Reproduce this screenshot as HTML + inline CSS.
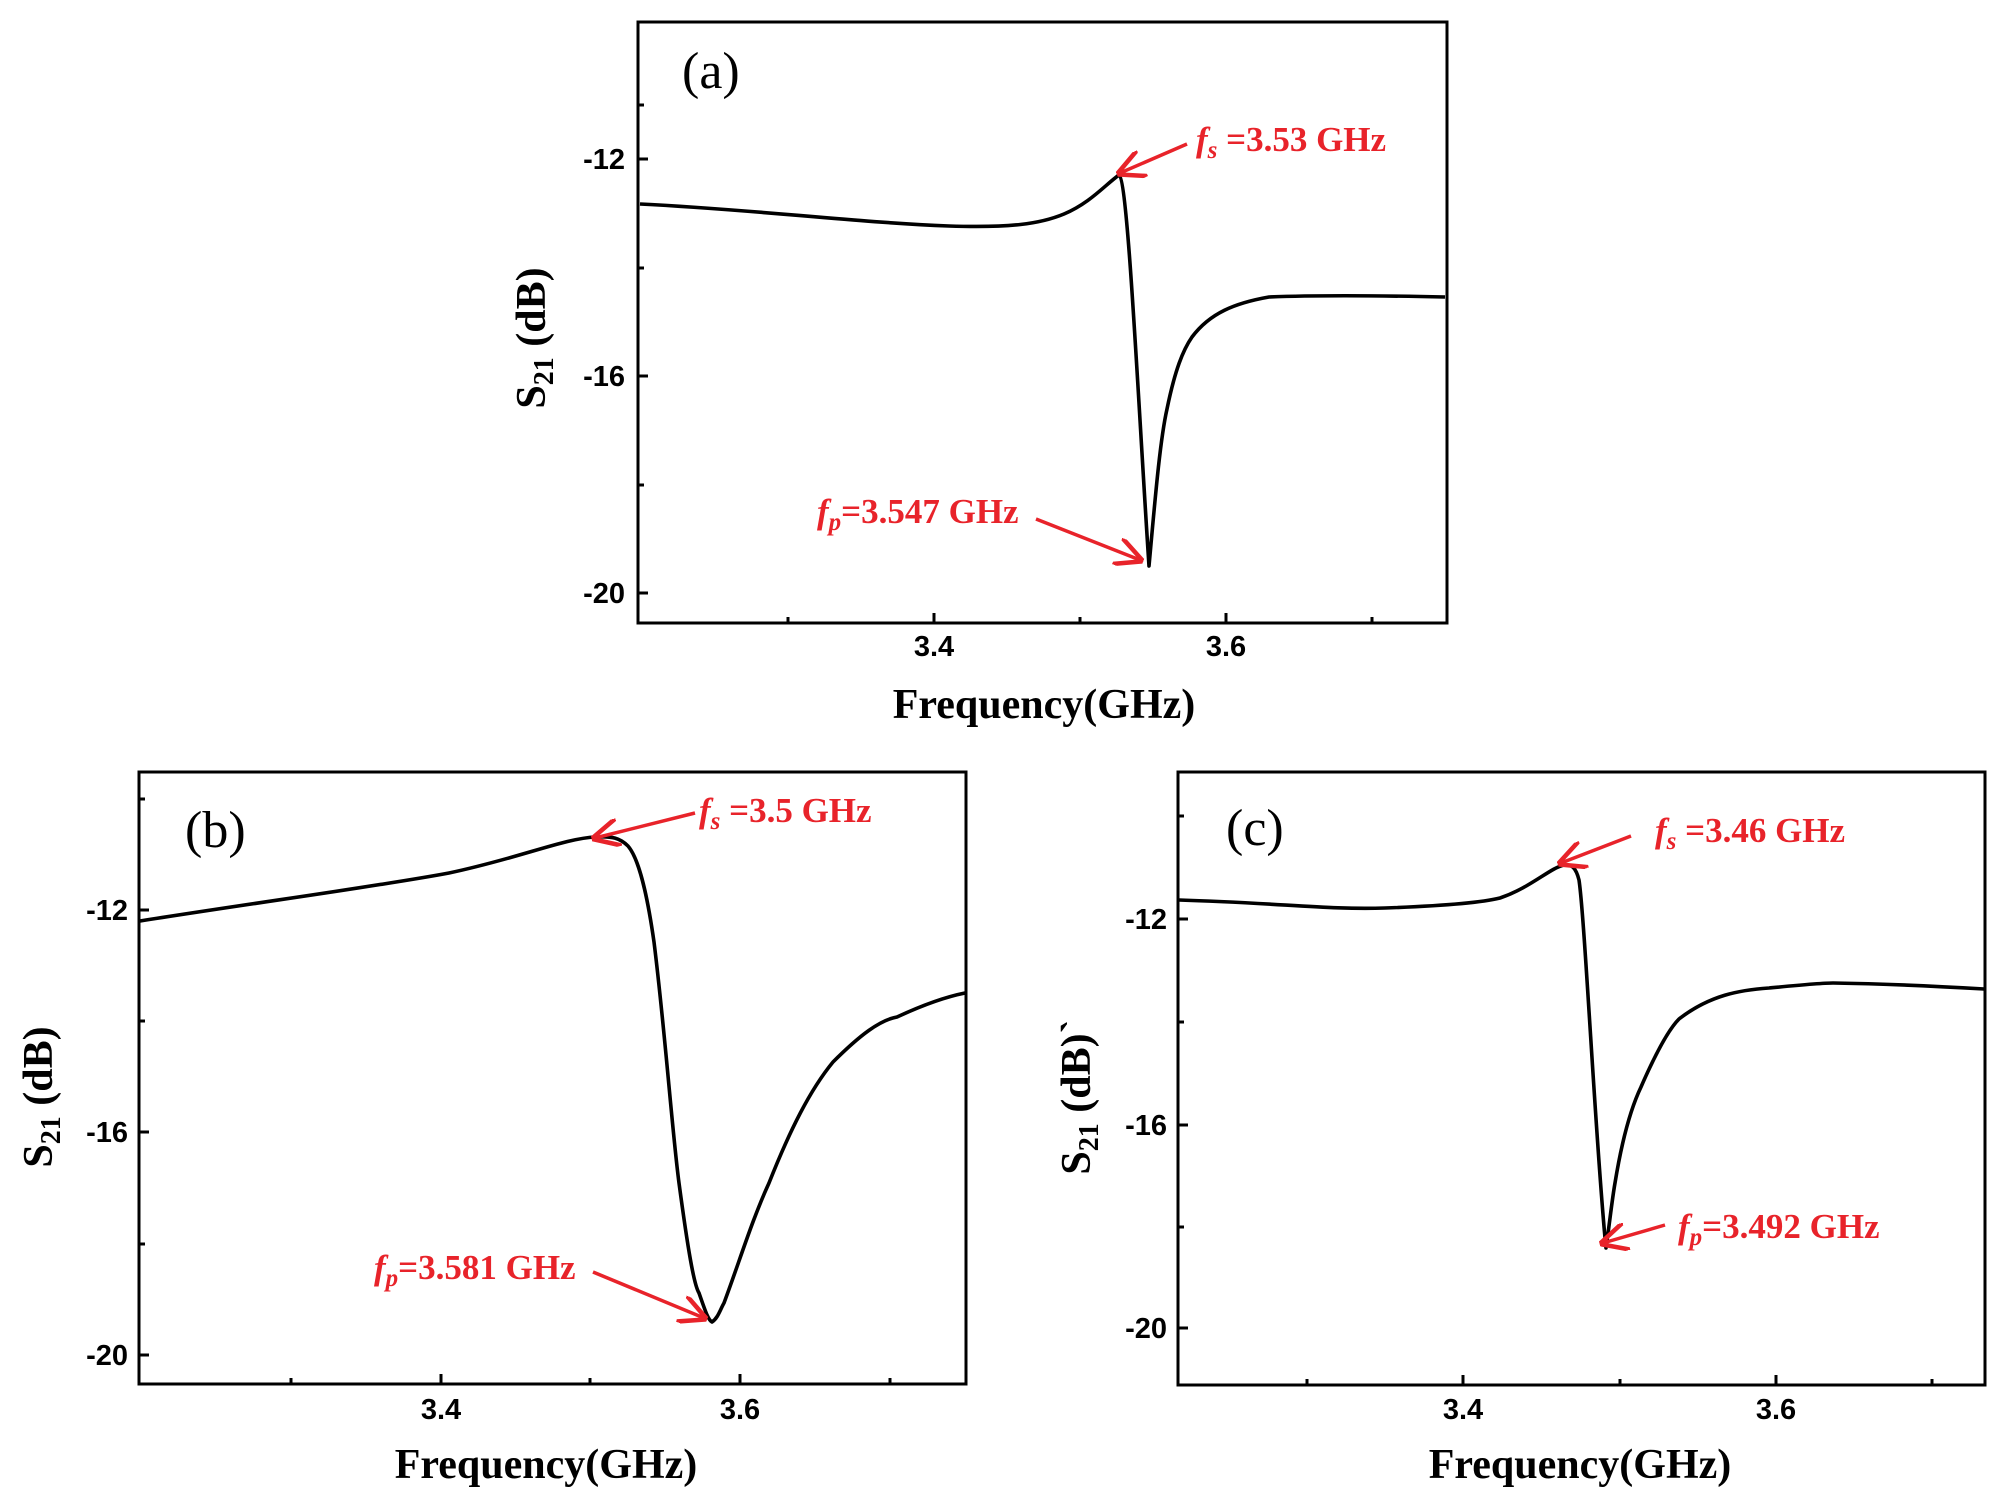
<!DOCTYPE html>
<html><head><meta charset="utf-8"><style>body{margin:0;background:#fff}svg{display:block}</style></head><body>
<svg width="2000" height="1500" viewBox="0 0 2000 1500" xmlns="http://www.w3.org/2000/svg">
<defs><marker id="ah" markerWidth="8" markerHeight="8" refX="7" refY="4" orient="auto" markerUnits="strokeWidth"><path d="M0,0 L8,4 L0,8" fill="none" stroke="#e8232a" stroke-width="1.3"/></marker></defs>
<g fill="none" stroke="#000" stroke-width="3">
<rect x="638" y="22" width="809" height="601"/>
<rect x="139" y="772" width="827" height="612"/>
<rect x="1178" y="772" width="807" height="613"/>
<path d="M638,159h10M638,376h10M638,593h10M638,105h6M638,268h6M638,485h6M934,623v-10M1226,623v-10M788,623v-6M1080,623v-6M1372,623v-6"/>
<path d="M139,910h10M139,1132h10M139,1355h10M139,799h6M139,1021h6M139,1244h6M441,1384v-10M740,1384v-10M291,1384v-6M590,1384v-6M890,1384v-6"/>
<path d="M1178,919h10M1178,1125h10M1178,1328h10M1178,816h6M1178,1022h6M1178,1227h6M1463,1385v-10M1776,1385v-10M1307,1385v-6M1620,1385v-6M1932,1385v-6"/>
</g>
<g fill="none" stroke="#000" stroke-width="3.6" stroke-linejoin="round">
<path d="M640,204 C760,210 850,222 949,226 C1010,228 1040,224 1064,214 C1090,203 1105,185 1119,175 C1128,180 1138,400 1149,566 C1155,500 1160,440 1167,409 C1175,370 1183,350 1192,337 C1210,313 1235,303 1269,297 C1320,295 1400,296 1445,297"/>
<path d="M140,921 C260,902 380,886 449,873 C520,858 565,838 596,837 C612,836 620,838 628,846 C640,860 648,900 654,942 C665,1030 672,1130 679,1183 C688,1250 694,1285 699,1293 C705,1310 708,1320 712,1322 C718,1318 720,1310 724,1303 C740,1260 752,1220 769,1183 C790,1130 810,1090 833,1062 C860,1035 880,1020 897,1017 C925,1004 945,997 965,993"/>
<path d="M1179,900 C1280,903 1330,910 1385,908 C1440,906 1480,903 1500,898 C1530,888 1550,868 1564,865 C1572,864 1576,868 1579,880 C1585,920 1596,1150 1606,1248 C1610,1220 1612,1200 1615,1183 C1622,1140 1630,1110 1641,1087 C1655,1055 1668,1030 1679,1019 C1710,995 1740,990 1769,988 C1800,985 1820,983 1833,983 C1900,984 1950,987 1984,989"/>
</g>
<g font-family="Liberation Sans, sans-serif" font-weight="bold" font-size="29" fill="#000">
<g text-anchor="end"><text x="625" y="169">-12</text><text x="625" y="386">-16</text><text x="625" y="603">-20</text>
<text x="128" y="920">-12</text><text x="128" y="1142">-16</text><text x="128" y="1365">-20</text>
<text x="1167" y="929">-12</text><text x="1167" y="1135">-16</text><text x="1167" y="1338">-20</text></g>
<g text-anchor="middle"><text x="934" y="656">3.4</text><text x="1226" y="656">3.6</text>
<text x="441" y="1419">3.4</text><text x="740" y="1419">3.6</text>
<text x="1463" y="1419">3.4</text><text x="1776" y="1419">3.6</text></g>
</g>
<g font-family="Liberation Serif, serif" font-weight="bold" font-size="42" fill="#000" text-anchor="middle">
<text x="1044" y="718">Frequency(GHz)</text>
<text x="546" y="1478">Frequency(GHz)</text>
<text x="1580" y="1478">Frequency(GHz)</text>
<text transform="translate(545,338) rotate(-90)">S<tspan font-size="28" dy="8">21</tspan><tspan dy="-8"> (dB)</tspan></text>
<text transform="translate(52,1097) rotate(-90)">S<tspan font-size="28" dy="8">21</tspan><tspan dy="-8"> (dB)</tspan></text>
<text transform="translate(1090,1097) rotate(-90)">S<tspan font-size="28" dy="8">21</tspan><tspan dy="-8"> (dB)`</tspan></text>
</g>
<g font-family="Liberation Serif, serif" font-size="52" fill="#000">
<text x="682" y="88">(a)</text><text x="185" y="847">(b)</text><text x="1226" y="845">(c)</text>
</g>
<g font-family="Liberation Serif, serif" font-weight="bold" font-size="35" fill="#e8232a">
<text x="1196" y="151"><tspan font-style="italic">f<tspan font-size="25" dy="7">s</tspan></tspan><tspan dy="-7"> =3.53 GHz</tspan></text>
<text x="817" y="523"><tspan font-style="italic">f<tspan font-size="25" dy="7">p</tspan></tspan><tspan dy="-7">=3.547 GHz</tspan></text>
<text x="699" y="822"><tspan font-style="italic">f<tspan font-size="25" dy="7">s</tspan></tspan><tspan dy="-7"> =3.5 GHz</tspan></text>
<text x="374" y="1279"><tspan font-style="italic">f<tspan font-size="25" dy="7">p</tspan></tspan><tspan dy="-7">=3.581 GHz</tspan></text>
<text x="1655" y="842"><tspan font-style="italic">f<tspan font-size="25" dy="7">s</tspan></tspan><tspan dy="-7"> =3.46 GHz</tspan></text>
<text x="1678" y="1238"><tspan font-style="italic">f<tspan font-size="25" dy="7">p</tspan></tspan><tspan dy="-7">=3.492 GHz</tspan></text>
</g>
<g stroke="#e8232a" stroke-width="3.5" fill="none" marker-end="url(#ah)">
<path d="M1187,144 L1120,173"/><path d="M1036,519 L1140,560"/>
<path d="M695,813 L595,838"/><path d="M593,1272 L704,1318"/>
<path d="M1631,836 L1561,863"/><path d="M1665,1225 L1603,1243"/>
</g>
</svg>
</body></html>
